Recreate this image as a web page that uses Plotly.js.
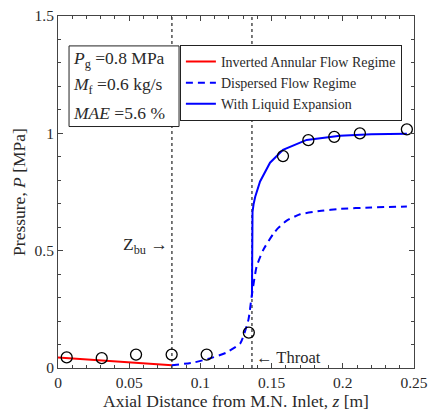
<!DOCTYPE html>
<html>
<head>
<meta charset="utf-8">
<script src="https://cdn.plot.ly/plotly-3.0.1.min.js"></script>
<style>html,body{margin:0;padding:0;background:#fff;}#chart{width:430px;height:412px;}</style>
</head>
<body>
<div id="chart"></div>
<script>
// Experimental points
var expZ = [0.0061, 0.0307, 0.0548, 0.0798, 0.1044, 0.134, 0.158, 0.1758, 0.194, 0.212, 0.245];
var expP = [0.045, 0.042, 0.057, 0.057, 0.057, 0.151, 0.903, 0.971, 0.985, 1.0, 1.017];

// Inverted annular flow regime
var iafZ = [0.0, 0.02, 0.04, 0.06, 0.08];
var iafP = [0.045, 0.037, 0.029, 0.021, 0.012];

// Dispersed flow regime
var dfZ = [0.08, 0.095, 0.1067, 0.118, 0.128, 0.1337, 0.136, 0.1395, 0.1442, 0.1512, 0.1547, 0.1606, 0.170, 0.185, 0.198, 0.22, 0.245];
var dfP = [0.012, 0.023, 0.041, 0.065, 0.105, 0.205, 0.305, 0.433, 0.504, 0.572, 0.597, 0.628, 0.655, 0.670, 0.678, 0.684, 0.688];

// With liquid expansion
var leZ = [0.1362, 0.1362, 0.1366, 0.1374, 0.1385, 0.1419, 0.1489, 0.158, 0.1746, 0.198, 0.22, 0.245];
var leP = [0.305, 0.60, 0.665, 0.700, 0.730, 0.795, 0.875, 0.930, 0.972, 0.990, 0.996, 0.998];

// Reference positions
var zBu = 0.08;
var zThroat = 0.1362;

var serif = 'Liberation Serif, Times New Roman, serif';
var txt = '#2a2a2a';

var traces = [
  {x: iafZ, y: iafP, mode: 'lines', name: 'Inverted Annular Flow Regime',
   line: {color: '#ff0000', width: 2}},
  {x: dfZ, y: dfP, mode: 'lines', name: 'Dispersed Flow Regime',
   line: {color: '#0000ff', width: 2, dash: '7px,5px', shape: 'spline', smoothing: 0.5}},
  {x: leZ, y: leP, mode: 'lines', name: 'With Liquid Expansion',
   line: {color: '#0000ff', width: 2}},
  {x: expZ, y: expP, mode: 'markers', showlegend: false,
   marker: {symbol: 'circle-open', size: 11, color: '#000', line: {width: 1.3, color: '#000'}}}
];

var layout = {
  width: 430, height: 412,
  margin: {l: 58, r: 16, t: 16, b: 44},
  paper_bgcolor: '#fff', plot_bgcolor: '#fff',
  font: {family: serif, color: txt, size: 15},
  showlegend: true,
  legend: {x: 0.966, y: 0.918, xanchor: 'right', yanchor: 'top',
    bordercolor: '#222', borderwidth: 1, bgcolor: '#fff',
    font: {family: serif, size: 14, color: txt}, itemwidth: 30,
    tracegroupgap: 0},
  xaxis: {range: [0, 0.25], dtick: 0.05, tick0: 0, ticks: 'inside', ticklen: 5,
    tickcolor: '#444', showline: true, linecolor: '#444', linewidth: 1, mirror: 'allticks',
    showgrid: false, zeroline: false,
    minor: {dtick: 0.01, ticks: 'inside', ticklen: 3, tickcolor: '#444', showgrid: false},
    tickfont: {family: serif, size: 15.5, color: txt},
    title: {text: 'Axial Distance from M.N. Inlet, <i>z</i> [m]', font: {family: serif, size: 17.5, color: txt}, standoff: 3}},
  yaxis: {range: [0, 1.5], dtick: 0.5, tick0: 0, ticks: 'inside', ticklen: 5,
    tickcolor: '#444', showline: true, linecolor: '#444', linewidth: 1, mirror: 'allticks',
    showgrid: false, zeroline: false,
    minor: {dtick: 0.1, ticks: 'inside', ticklen: 3, tickcolor: '#444', showgrid: false},
    tickfont: {family: serif, size: 15.5, color: txt},
    title: {text: 'Pressure, <i>P</i> [MPa]', font: {family: serif, size: 17.5, color: txt}, standoff: 4}},
  shapes: [
    {type: 'line', xref: 'x', yref: 'paper', x0: zBu, x1: zBu, y0: 0, y1: 1,
     line: {color: '#333', width: 1.3, dash: 'dot'}, layer: 'below'},
    {type: 'line', xref: 'x', yref: 'paper', x0: zThroat, x1: zThroat, y0: 0, y1: 1,
     line: {color: '#333', width: 1.3, dash: 'dot'}, layer: 'below'},
    {type: 'rect', xref: 'paper', yref: 'paper', x0: 0.031, x1: 0.34, y0: 0.686, y1: 0.915,
     line: {color: '#222', width: 1}, fillcolor: '#fff'}
  ],
  annotations: [
    {xref: 'paper', yref: 'paper', x: 0.037, y: 0.877, xanchor: 'left', yanchor: 'middle', showarrow: false,
     text: '<i>P</i><sub>g</sub> =0.8 MPa', font: {family: serif, size: 17.5, color: txt}},
    {xref: 'paper', yref: 'paper', x: 0.037, y: 0.802, xanchor: 'left', yanchor: 'middle', showarrow: false,
     text: '<i>M</i><sub>f</sub> =0.6 kg/s', font: {family: serif, size: 17.5, color: txt}},
    {xref: 'paper', yref: 'paper', x: 0.037, y: 0.724, xanchor: 'left', yanchor: 'middle', showarrow: false,
     text: '<i>MAE</i> =5.6 %', font: {family: serif, size: 17.5, color: txt}},
    {xref: 'x', yref: 'y', x: zBu, y: 0.52, xanchor: 'right', yanchor: 'middle', xshift: -2, showarrow: false,
     text: 'Z<sub>bu</sub> →', font: {family: serif, size: 17.5, color: txt}},
    {xref: 'x', yref: 'y', x: zThroat, y: 0.045, xanchor: 'left', yanchor: 'middle', xshift: 2, showarrow: false,
     text: '← Throat', font: {family: serif, size: 16.5, color: txt}}
  ]
};

Plotly.newPlot('chart', traces, layout, {displayModeBar: false, staticPlot: true});
</script>
</body>
</html>
